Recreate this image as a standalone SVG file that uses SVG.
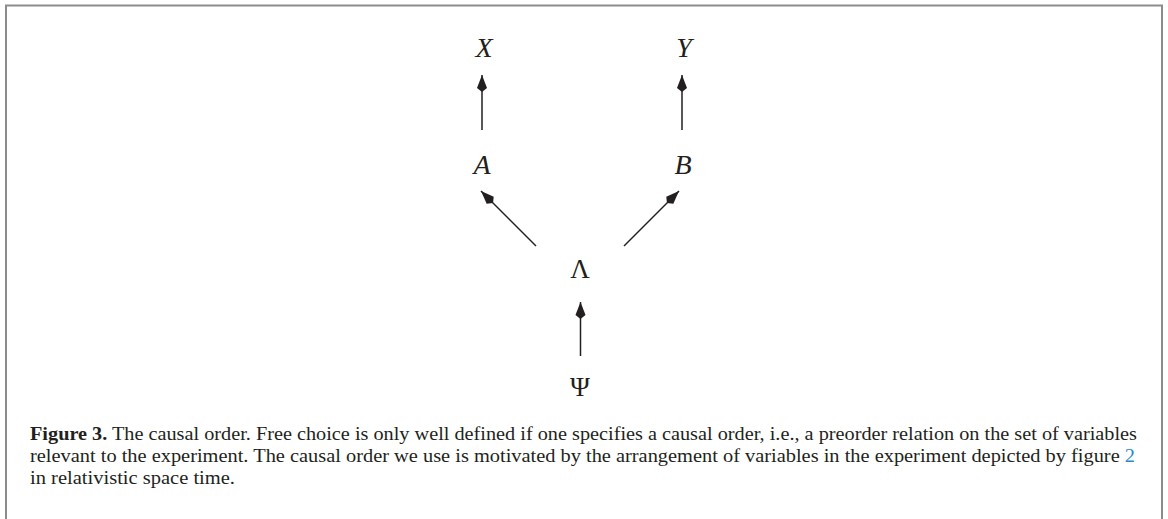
<svg xmlns="http://www.w3.org/2000/svg" width="1168" height="519" viewBox="0 0 1168 519">
<defs>
<style>
.var{font-family:"Liberation Serif","Times New Roman",serif;font-size:28px;font-style:italic;fill:#231f20;text-anchor:middle}
.greek{font-family:"Liberation Serif","Times New Roman",serif;font-size:27px;fill:#231f20;text-anchor:middle}
.cap{font-family:"Liberation Serif","Times New Roman",serif;font-size:18px;fill:#231f20}
.edge{stroke:#231f20;stroke-width:1.5;fill:none;marker-end:url(#head)}
.frame{stroke:#8c8c8c;stroke-width:2;fill:none}
</style>
<marker id="head" markerUnits="userSpaceOnUse" viewBox="-18 -6 20 12" refX="0" refY="0" markerWidth="20" markerHeight="12" orient="auto">
<path d="M0,0 L-13,-5 L-17,0 L-13,5 Z" fill="#231f20"/>
</marker>
</defs>
<rect width="1168" height="519" fill="#ffffff"/>
<path class="frame" d="M6,519 V5.5 H1162 V519"/>
<g id="connectors">
<line class="edge" x1="482" y1="130" x2="482" y2="75"/>
<line class="edge" x1="682" y1="130" x2="682" y2="75"/>
<line class="edge" x1="536" y1="246" x2="481" y2="191"/>
<line class="edge" x1="624" y1="246" x2="679" y2="191"/>
<line class="edge" x1="580.5" y1="356" x2="580.5" y2="302"/>
</g>
<g id="node-X"><text class="var" x="484" y="57">X</text></g>
<g id="node-Y"><text class="var" x="684" y="57">Y</text></g>
<g id="node-A"><text class="var" x="482" y="174">A</text></g>
<g id="node-B"><text class="var" x="683" y="174">B</text></g>
<g id="node-Lambda"><text class="greek" x="580" y="278">Λ</text></g>
<g id="node-Psi"><text class="greek" x="580" y="396">Ψ</text></g>
<g id="caption">
<text class="cap" x="30" y="440" textLength="1107" lengthAdjust="spacingAndGlyphs"><tspan font-weight="bold">Figure 3.</tspan> The causal order. Free choice is only well defined if one specifies a causal order, i.e., a preorder relation on the set of variables</text>
<text class="cap" x="30" y="462" textLength="1105" lengthAdjust="spacingAndGlyphs">relevant to the experiment. The causal order we use is motivated by the arrangement of variables in the experiment depicted by figure <tspan fill="#2a8ac6">2</tspan></text>
<text class="cap" x="30" y="484" textLength="205" lengthAdjust="spacingAndGlyphs">in relativistic space time.</text>
</g>
</svg>
